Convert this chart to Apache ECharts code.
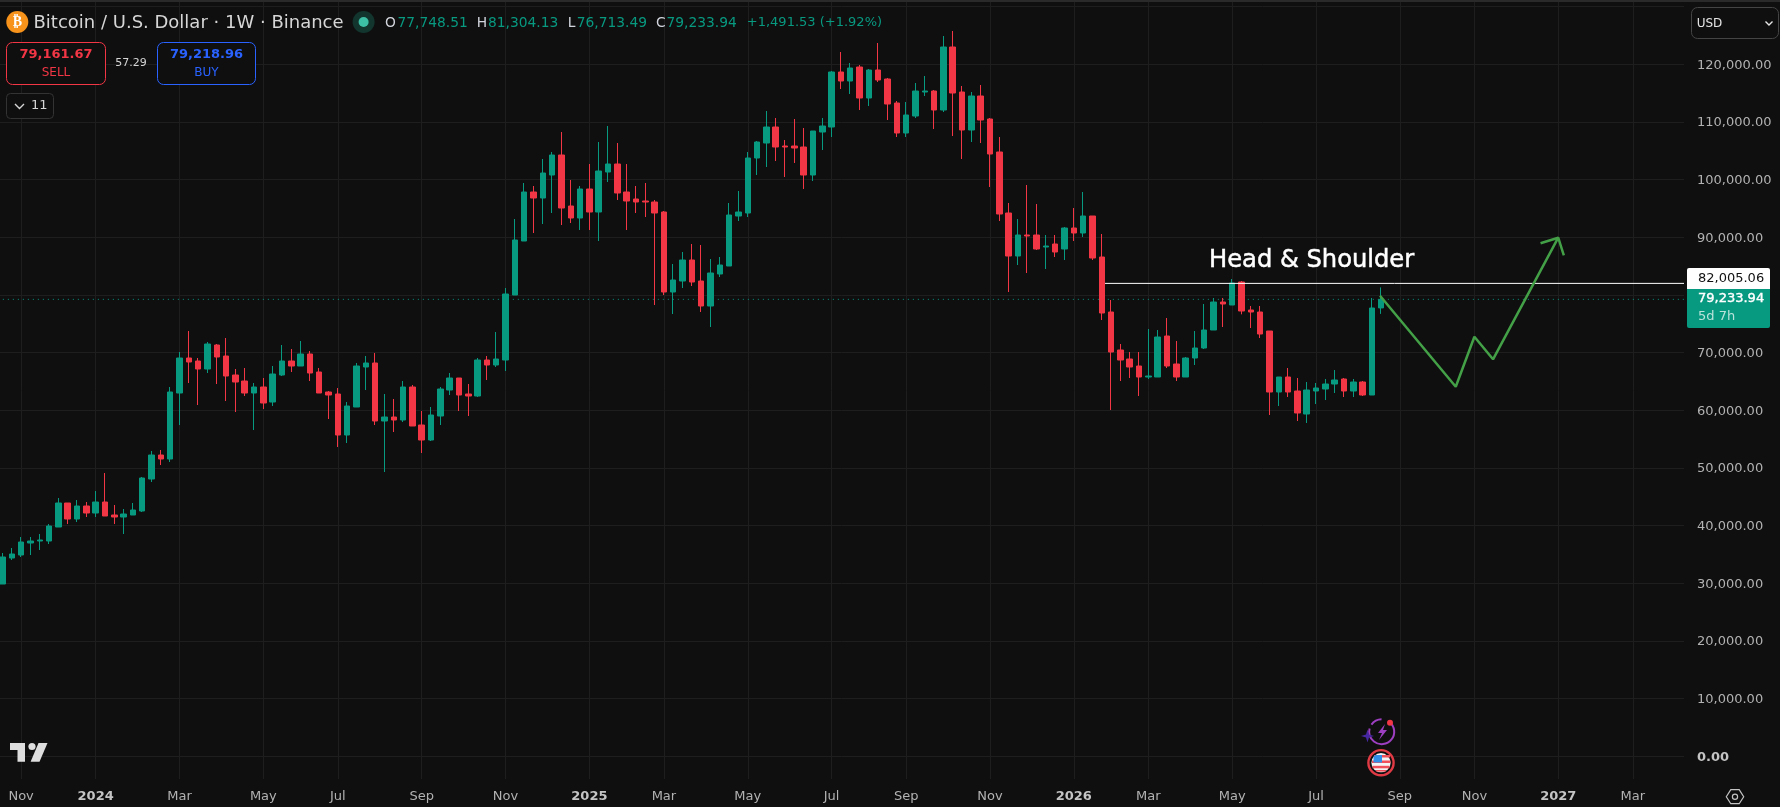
<!DOCTYPE html>
<html>
<head>
<meta charset="utf-8">
<style>html,body{margin:0;padding:0;background:#0f0f0f}#c{width:1780px;height:807px}</style>
<script src="https://cdn.jsdelivr.net/npm/echarts@6/dist/echarts.min.js"></script>
</head>
<body>
<div id="c"></div>
<script>
const opens = [29876,34385,34905,36986,37333,37333,39760,43922,41147,43402,
42188,44095,41841,41494,41841,42535,48083,52245,51551,62996,
69065,68545,67157,71319,69412,66117,65077,62996,64036,61435,
66117,68545,67678,69758,66637,63169,62822,55713,60568,67504,
68198,58141,58834,58314,64036,57447,54846,59008,63516,65597,
62822,62476,68718,67851,68718,79989,89353,97849,96809,100797,
104265,95422,93341,98369,94381,101317,102704,97849,96635,96289,
96115,94381,80509,82417,86058,82417,78082,83630,85018,93688,
94208,103745,106346,109120,105826,105826,105652,100797,108253,109120,
118657,117097,119524,114149,119004,117443,113282,108080,111028,115189,
115363,112068,122992,115189,108600,114496,110507,104785,94208,86752,
90393,90393,88312,88832,87965,91607,90740,93688,86578,77041,
70452,68891,67678,65770,65770,72880,68024,65770,69065,70799,
73920,78775,78255,82243,77388,77041,73747,63169,65770,63343,
59354,63343,63689,64556,65423,63343,64903,62649,77748.51];
const closes = [34558,35078,37159,37333,37506,39934,43922,41147,43402,42188,
44095,41668,41494,42014,42708,48257,52245,51551,63169,69065,
68371,67157,71492,69238,65944,64903,62996,64036,61262,66290,
68545,67678,69758,66464,62996,62649,55713,60742,67678,68198,
58141,58834,58314,64036,57274,54846,59181,63689,65597,62649,
62476,68718,67851,68891,80162,89526,97849,96809,101144,104265,
95075,93341,98369,94381,101491,102704,97676,96289,96115,96115,
94208,80509,82590,86058,82243,78082,83804,85191,93861,94381,
103745,106519,109120,105652,105652,105479,100797,108427,109294,118657,
117097,119351,114149,119004,117270,113108,108080,111201,115363,115363,
112068,122992,115016,108600,114496,110334,104438,94034,86752,90393,
90220,87965,88486,87445,91607,90740,93688,86405,76868,70105,
68718,67504,65770,65944,72706,67678,65770,69065,70799,73920,
78775,78428,82070,77215,77041,73226,63169,65770,63169,59528,
63516,63863,64556,65250,63343,64903,62649,77735,79233.94];
const lows = [29876,34038,34558,34905,35772,36812,39760,40280,40627,41494,
41494,41668,40280,38546,41841,42361,47563,50511,51031,57447,
64730,60915,66464,64556,61609,59701,62476,56580,60221,60742,
65944,66637,67678,65077,62996,58487,53632,54326,60568,63516,
57447,49297,56233,57967,57274,52592,54673,57447,62649,59875,
59008,62302,65250,67504,66811,79989,89353,90740,92300,94208,
92127,92474,91260,91260,89353,99583,96462,91260,94208,93514,
78255,79989,76694,81203,81550,77041,74440,83110,85018,92821,
93514,100797,102184,103225,100450,102878,98369,99757,105132,107386,
115709,114842,112068,112762,116923,110334,107386,107386,110681,114496,
108773,111721,107560,103571,106519,106346,98716,92821,80509,85191,
83804,87792,84497,86578,86058,89353,90046,86058,75654,60048,
65077,65597,62476,65423,65770,67331,65077,65770,67851,70625,
73920,74440,78255,76637,74267,72533,59181,60742,62302,58141,
57794,61088,61782,62996,62302,62302,62476,62649,76713.49];
const highs = [35252,36119,38026,38026,38546,40280,44789,43922,44442,44095,
46003,49124,43575,42881,43922,48430,52939,53112,64036,70105,
73747,69065,71839,71492,72533,67157,67331,64730,65597,67678,
71319,70625,72013,70279,67331,63343,63863,61435,68198,69412,
69932,62822,61955,65077,64383,59875,60568,64036,66464,65597,
64556,69065,69412,73573,81203,93167,99410,98890,103571,104785,
108253,99930,98890,102704,106519,109294,106346,102704,98890,99410,
96462,94555,85364,87445,88832,88659,86231,86578,95942,98023,
104785,106693,111895,110681,106866,110507,108947,108427,110681,118831,
122125,120218,119871,119177,123686,117617,113629,113455,116750,117964,
115536,124900,125767,116230,115189,116403,110681,107386,95942,93167,
99063,95768,90393,90393,91780,95075,97849,93688,90566,79122,
71492,70105,70105,74093,73920,76001,72013,69238,73747,78428,
79469,79469,82763,82417,78082,78082,73747,65770,67331,65597,
64903,64730,65423,66984,65597,65423,65077,79469,81304.13];

// Weekly bars, Monday 23 Oct 2023 onward; the axis runs on past the last bar.
const weekCount = 181;
const categories = [];
for (let i = 0; i < weekCount; i++) {
  categories.push(new Date(Date.UTC(2023, 9, 23 + 7 * i)).toISOString().slice(0, 10));
}
const tickWeeks = [2,10,19,28,36,45,54,63,71,80,89,97,106,115,123,132,141,150,158,167,175];
const tickLabels = ['Nov','2024','Mar','May','Jul','Sep','Nov','2025','Mar','May','Jul','Sep','Nov','2026','Mar','May','Jul','Sep','Nov','2027','Mar'];
const priceTicks = [0,10000,20000,30000,40000,50000,60000,70000,80000,90000,100000,110000,120000,130000];
const priceLabels = priceTicks.slice(0, 13);

const neckline = 82005.06;
const lastPrice = 79233.94;
const necklineStart = 118.35;
const pathX = [147.87,156,158,160,167];
const pathY = [79870,64090,72760,68840,89925];
const arrowX = [165.1,167,167.6];
const arrowY = [88955,89925,86875];

const GREEN = '#089981', RED = '#F23645', BG = '#0f0f0f', GRID = '#1e1e1e', TXT = '#b2b2b2';
const FONT = '"DejaVu Sans"';
const ohlc = opens.map((o, i) => [o, closes[i], lows[i], highs[i]]);
const bandMin = -0.5, bandMax = weekCount - 0.5;

function txt(x, y, text, fill, size, extra) {
  const e = extra || {};
  const style = {x, y, text, fill, font:`${e.weight||'normal'} ${size}px ${FONT}`,
    textVerticalAlign:'middle', textAlign:e.align||'left'};
  if (e.thick) { style.stroke = fill; style.lineWidth = e.thick; }
  return {type:'text', z:100, style};
}
function box(x, y, w, h, r, fill, stroke) {
  return {type:'rect', z:99, shape:{x, y, width:w, height:h, r}, style:{fill, stroke, lineWidth:stroke?1:0}};
}
const chrome = [
  {type:'rect', z:98, shape:{x:0,y:0,width:1780,height:2}, style:{fill:'#2a2a2a'}},
  {type:'circle', z:99, shape:{cx:17.3,cy:22,r:11}, style:{fill:'#F7931A'}},
  txt(17.3, 22.5, '₿', '#fff', 14, {align:'center', weight:'bold'}),
  txt(33.5, 23, 'Bitcoin / U.S. Dollar · 1W · Binance', '#d6d6d6', 18),
  {type:'circle', z:99, shape:{cx:363.6,cy:22,r:11}, style:{fill:'#12352e'}},
  {type:'circle', z:99, shape:{cx:363.6,cy:22,r:5}, style:{fill:'#3dbfa5'}},
  txt(385, 23, 'O', '#d1d4dc', 13.8),
  txt(397.5, 23, '77,748.51', GREEN, 13.8),
  txt(476.8, 23, 'H', '#d1d4dc', 13.8),
  txt(488, 23, '81,304.13', GREEN, 13.8),
  txt(567.7, 23, 'L', '#d1d4dc', 13.8),
  txt(576.8, 23, '76,713.49', GREEN, 13.8),
  txt(655.9, 23, 'C', '#d1d4dc', 13.8),
  txt(666.5, 23, '79,233.94', GREEN, 13.8),
  txt(746.8, 23, '+1,491.53 (+1.92%)', GREEN, 13),
  box(6.5, 42.5, 99, 42, 6, BG, RED),
  txt(56, 55, '79,161.67', RED, 13, {align:'center', weight:'bold'}),
  txt(56, 72.5, 'SELL', RED, 12, {align:'center'}),
  txt(131, 63, '57.29', '#d6d6d6', 11, {align:'center'}),
  box(157.5, 42.5, 98, 42, 6, BG, '#2962FF'),
  txt(206.5, 55, '79,218.96', '#2962FF', 13, {align:'center', weight:'bold'}),
  txt(206.5, 72.5, 'BUY', '#2962FF', 12, {align:'center'}),
  box(6.5, 93.5, 47, 25, 4, BG, '#333333'),
  {type:'polyline', z:100, shape:{points:[[15,104],[19.5,108.5],[24,104]]}, style:{stroke:'#d6d6d6', lineWidth:1.4, fill:null}},
  txt(31, 106, '11', '#d6d6d6', 13),
  box(1691.5, 7.5, 87, 31, 6, BG, '#444444'),
  txt(1696.7, 23.5, 'USD', '#e6e6e6', 12),
  {type:'polyline', z:100, shape:{points:[[1765.5,21.5],[1769,25],[1772.5,21.5]]}, style:{stroke:'#e6e6e6', lineWidth:1.4, fill:null}},
  txt(1209, 260.5, 'Head & Shoulder', '#ffffff', 24.2, {thick:0.5}),
  {type:'rect', z:99, shape:{x:1687,y:268,width:83,height:21,r:[2,2,0,0]}, style:{fill:'#ffffff'}},
  txt(1698, 278.5, '82,005.06', '#111111', 13),
  {type:'rect', z:99, shape:{x:1687,y:289,width:83,height:39,r:[0,0,2,2]}, style:{fill:GREEN}},
  txt(1698, 299, '79,233.94', '#ffffff', 13, {thick:0.4}),
  txt(1698, 317, '5d 7h', '#b9e3da', 13),
  {type:'polygon', z:100, shape:{points:[[10,743],[25,743],[25,761.7],[17.5,761.7],[17.5,750],[10,750]]}, style:{fill:'#dedede'}},
  {type:'circle', z:100, shape:{cx:32,cy:746.5,r:3.6}, style:{fill:'#dedede'}},
  {type:'polygon', z:100, shape:{points:[[38.5,743],[47.5,743],[39.5,761.7],[30.6,761.7]]}, style:{fill:'#dedede'}},
  {type:'arc', z:100, shape:{cx:1381.7,cy:731.7,r:12.5,startAngle:-0.9,endAngle:3.4,clockwise:true}, style:{stroke:'#9c3fc0', lineWidth:2, fill:null}},
  {type:'arc', z:100, shape:{cx:1381.7,cy:731.7,r:12.5,startAngle:3.75,endAngle:4.7,clockwise:true}, style:{stroke:'#9c3fc0', lineWidth:2, fill:null}},
  {type:'polygon', z:100, shape:{points:[[1385,724],[1378,733],[1382,733],[1379,740],[1387,730],[1383,730]]}, style:{fill:'#9c3fc0'}},
  {type:'circle', z:101, shape:{cx:1390,cy:722.7,r:3}, style:{fill:RED}},
  {type:'polygon', z:100, shape:{points:[[1367.5,729.5],[1369,734.5],[1374,736],[1369,737.5],[1367.5,742.5],[1366,737.5],[1361,736],[1366,734.5]]}, style:{fill:'#4527a0'}},
  {type:'circle', z:100, shape:{cx:1381,cy:762.7,r:12.6}, style:{fill:'#0f0f0f', stroke:'#E03A45', lineWidth:2.4}},
  {type:'circle', z:100, shape:{cx:1381,cy:762.7,r:9.6}, style:{fill:'#f4f4f4'}},
  {type:'rect', z:101, shape:{x:1374,y:755,width:16,height:2.5}, style:{fill:'#F0505A'}},
  {type:'rect', z:101, shape:{x:1372,y:760.5,width:18.5,height:2.5}, style:{fill:'#F0505A'}},
  {type:'rect', z:101, shape:{x:1372.5,y:765.8,width:17,height:2.5}, style:{fill:'#F0505A'}},
  {type:'rect', z:101, shape:{x:1376,y:770,width:10,height:1.6}, style:{fill:'#F0505A'}},
  {type:'rect', z:102, shape:{x:1373.5,y:755,width:8.5,height:7.5,r:[3,0,0,0]}, style:{fill:'#2f8fe8'}},
  {type:'polygon', z:100, shape:{points:[[1726.3,796.7],[1730.8,789.7],[1739.2,789.7],[1743.7,796.7],[1739.2,803.7],[1730.8,803.7]]}, style:{fill:'none', stroke:'#c4c4c4', lineWidth:1.2}},
  {type:'circle', z:100, shape:{cx:1735,cy:796.7,r:2.6}, style:{fill:'none', stroke:'#c4c4c4', lineWidth:1.2}}
];

const chart = echarts.init(document.getElementById('c'), null, {renderer:'canvas'});
chart.setOption({
  animation:false,
  backgroundColor:BG,
  grid:{left:-2.158, top:2, width:1686.158, height:777, outerBoundsMode:'none', containLabel:false},
  xAxis:[{
    type:'category', data:categories, boundaryGap:true,
    axisLine:{show:false},
    axisTick:{show:false, interval:(i)=>tickWeeks.includes(i), alignWithLabel:true},
    splitLine:{show:true, interval:(i)=>tickWeeks.includes(i), alignWithLabel:true, lineStyle:{color:GRID, width:1}},
    axisLabel:{
      show:true, margin:11, fontFamily:FONT, fontSize:13, color:TXT, hideOverlap:false,
      interval:(i)=>tickWeeks.includes(i),
      formatter:(v,i)=>{
        const t = tickLabels[tickWeeks.indexOf(i)] || '';
        return /^\d/.test(t) ? `{y|${t}}` : t;
      },
      rich:{y:{fontFamily:FONT, fontSize:13, fontWeight:'bold', color:'#c4c4c4'}}
    }
  },{
    type:'value', min:bandMin, max:bandMax, show:false, splitLine:{show:false}
  }],
  yAxis:{
    type:'value', position:'right', min:-3936, max:130796, scale:false,
    axisLine:{show:false},
    axisTick:{show:false, customValues:priceTicks},
    splitLine:{show:true, lineStyle:{color:GRID, width:1}},
    axisLabel:{
      margin:13, fontFamily:FONT, fontSize:13, color:TXT, customValues:priceLabels, padding:[2,0,0,0],
      formatter:(v)=>{
        const s = v.toLocaleString('en-US',{minimumFractionDigits:2, maximumFractionDigits:2});
        return v === 0 ? `{z|${s}}` : s;
      },
      rich:{z:{fontFamily:FONT, fontSize:13, fontWeight:'bold', color:'#c4c4c4'}}
    }
  },
  series:[
    {type:'line', xAxisIndex:1, z:1, symbol:'none', silent:true,
     data:[[bandMin,lastPrice],[bandMax,lastPrice]],
     lineStyle:{color:GREEN, width:1, type:[1,4]}},
    {type:'candlestick', xAxisIndex:0, z:2, barWidth:6, data:ohlc,
     itemStyle:{color:GREEN, color0:RED, borderColor:GREEN, borderColor0:RED, borderWidth:1}},
    {type:'line', xAxisIndex:1, z:3, symbol:'none', silent:true,
     data:[[necklineStart,neckline],[bandMax,neckline]],
     lineStyle:{color:'#ffffff', width:1}},
    {type:'line', xAxisIndex:1, z:4, symbol:'none', silent:true,
     data:pathX.map((x,i)=>[x,pathY[i]]),
     lineStyle:{color:'#43A047', width:2.5}},
    {type:'line', xAxisIndex:1, z:4, symbol:'none', silent:true,
     data:arrowX.map((x,i)=>[x,arrowY[i]]),
     lineStyle:{color:'#43A047', width:2.5}}
  ],
  graphic:{elements:chrome}
});
</script>
</body>
</html>
